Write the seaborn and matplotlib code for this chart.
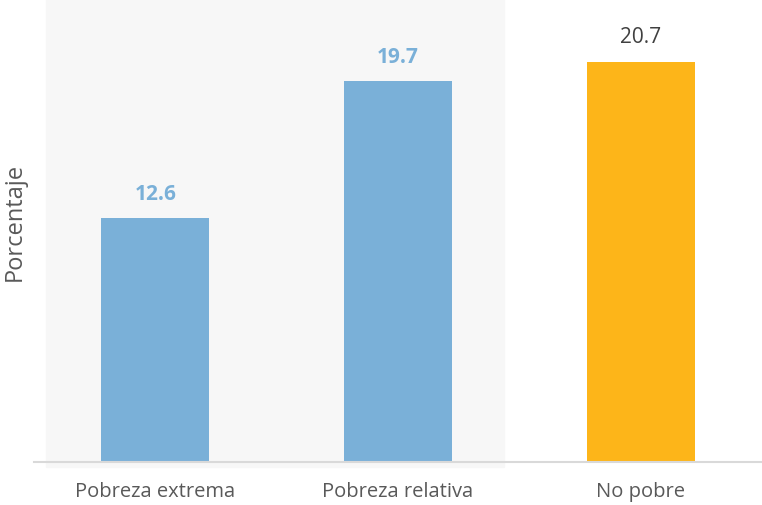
import pandas as pd
import matplotlib.pyplot as plt
import seaborn as sns

# --- data ---
categories = ['Pobreza extrema', 'Pobreza relativa', 'No pobre']
values = [12.6, 19.7, 20.7]
bar_colors = ['#7AB0D8', '#7AB0D8', '#FDB519']
label_colors = ['#7AB0D8', '#7AB0D8', '#404040']
label_weights = ['bold', 'bold', 'normal']

df = pd.DataFrame({'categoria': categories, 'valor': values})

sns.set_style('white')
plt.rcParams['font.family'] = ['Open Sans', 'DejaVu Sans']

fig = plt.figure(figsize=(7.62, 5.06), dpi=100)
ax = fig.add_axes([34 / 762, 43 / 506, 1 - 34 / 762, 463 / 506])

# shaded area behind the two poverty bars
ax.axvspan(-0.45, 1.435, ymin=-0.01, ymax=1, color='#F7F7F7', zorder=0, clip_on=False)

sns.barplot(data=df, x='categoria', y='valor', hue='categoria',
            palette=dict(zip(categories, bar_colors)), legend=False,
            width=0.445, saturation=1, linewidth=0, ax=ax, zorder=2)

for i, v in enumerate(values):
    ax.text(i, v + 0.75, f'{v:.1f}', ha='center', va='bottom', fontsize=15,
            color=label_colors[i], fontweight=label_weights[i])

ax.set_ylim(0, 23.95)
ax.set_xlim(-0.5, 2.5)
ax.set_yticks([])
ax.set_xlabel('')
ax.set_ylabel('Porcentaje', fontsize=17, color='#595959')
ax.yaxis.set_label_coords(-0.01, 0.52)
ax.tick_params(axis='x', length=0, labelsize=14.5, labelcolor='#595959', pad=14)

for side in ['top', 'right', 'left']:
    ax.spines[side].set_visible(False)
ax.spines['bottom'].set_color('#D9D9D9')
ax.spines['bottom'].set_linewidth(1.5)
ax.patch.set_alpha(0)

fig.savefig('out.png', dpi=100)
